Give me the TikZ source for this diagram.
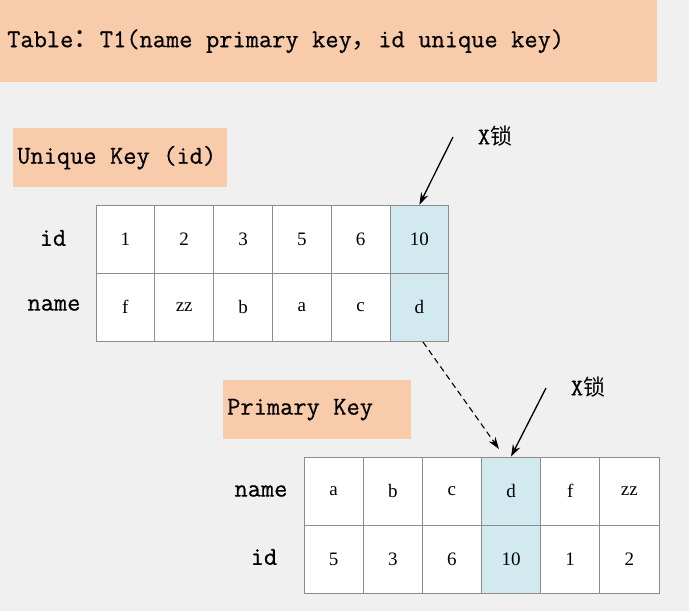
\documentclass[tikz,border=0pt]{standalone}
\usepackage{fontspec}
\setmainfont{Liberation Serif}
\newfontfamily\cjk{Noto Sans CJK SC}
\newfontfamily\mono{Latin Modern Mono}[FakeBold=0.6]
\usetikzlibrary{arrows.meta}

\definecolor{canvas}{HTML}{F0F0F0}
\definecolor{banner}{HTML}{F8CBAA}
\definecolor{hilite}{HTML}{D2E9EF}
\definecolor{gridline}{HTML}{8C8C8C}

% typewriter text; \ws is one full character cell of space
\newcommand\monoset{\fontsize{25.7}{30}\selectfont\mono}
\newcommand\ws{\hskip0.525em\relax}
% full-width punctuation, two character cells wide
\newcommand\wide[1]{{\cjk\fontsize{26.5}{30}\selectfont #1}}

\tikzset{
  monotext/.style={font=\monoset},
  banner box/.style={fill=banner, inner xsep=4pt, inner ysep=0pt,
    anchor=north west, align=left, monotext},
  cell/.style={draw=gridline, line width=0.8pt, fill=white,
    minimum width=#1, minimum height=68pt, inner sep=0pt,
    font=\fontsize{19}{21}\selectfont},
  hotcell/.style={cell=#1, fill=hilite},
  rowlabel/.style={monotext, inner sep=0pt},
  locklabel/.style={font=\fontsize{24}{28}\selectfont, inner sep=0pt},
  tip/.style={-{Stealth[length=12pt,width=8pt]}},
  lockarrow/.style={tip, line width=1.3pt, black},
  lookup/.style={tip, line width=1.1pt, dash pattern=on 6pt off 4pt},
}

\begin{document}
\begin{tikzpicture}[x=1pt,y=-1pt]
  % canvas
  \fill[canvas] (0,0) rectangle (689,611);
  \useasboundingbox (0,0) rectangle (689,611);

  % title banner
  \node[banner box, text width=643pt, minimum height=82pt, inner xsep=7pt]
    (title) at (0,0) {Table\wide{：}T1(name\ws primary\ws key\wide{，}id\ws unique\ws key)};

  % ---- unique key index ----
  \node[banner box, text width=206pt, minimum height=59pt]
    (ukhead) at (13,128) {Unique\ws Key\ws (id)};

  \foreach \v [count=\i] in {1,2,3,5,6} {
    \node[cell=58.8pt] (u-id-\i) at ({125.4+58.8*(\i-1)},239) {\v};
  }
  \node[hotcell=58.8pt] (u-id-6) at (419.4,239) {10};
  \foreach \v [count=\i] in {f,zz,b,a,c} {
    \node[cell=58.8pt] (u-nm-\i) at ({125.4+58.8*(\i-1)},307) {\v};
  }
  \node[hotcell=58.8pt] (u-nm-6) at (419.4,307) {d};

  \node[rowlabel] (u-lab-id) at (53,238) {id};
  \node[rowlabel] (u-lab-nm) at (54,305) {name};

  % ---- primary key index ----
  \node[banner box, text width=180pt, minimum height=59pt]
    (pkhead) at (223,380) {Primary\ws Key};

  \foreach \v [count=\i] in {a,b,c,d,f,zz} {
    \node[cell=59.2pt] (p-nm-\i) at ({333.6+59.15*(\i-1)},491) {\v};
  }
  \foreach \v [count=\i] in {5,3,6,10,1,2} {
    \node[cell=59.2pt] (p-id-\i) at ({333.6+59.15*(\i-1)},559) {\v};
  }
  % locked column
  \node[hotcell=59.2pt] (p-nm-4) at ({333.6+59.15*3},491) {d};
  \node[hotcell=59.2pt] (p-id-4) at ({333.6+59.15*3},559) {10};

  \node[rowlabel] (p-lab-nm) at (261,491) {name};
  \node[rowlabel] (p-lab-id) at (264,557) {id};

  % ---- lock markers ----
  \node[locklabel] (lockA) at (495,136) {\mono X{\cjk\fontsize{22}{26}\selectfont 锁}};
  \coordinate (tailA) at (453,137);
  \draw[lockarrow] (tailA) -- (u-id-6.north);

  \node[locklabel] (lockB) at (588,387) {\mono X{\cjk\fontsize{22}{26}\selectfont 锁}};
  \coordinate (tailB) at (546,388);
  \draw[lockarrow] (tailB) -- (p-nm-4.north);

  % lookup from secondary index to clustered record
  \coordinate (lookupStart) at (423,342);
  \coordinate (lookupEnd) at (499,449);
  \draw[lookup] (lookupStart) -- (lookupEnd);
\end{tikzpicture}
\end{document}
